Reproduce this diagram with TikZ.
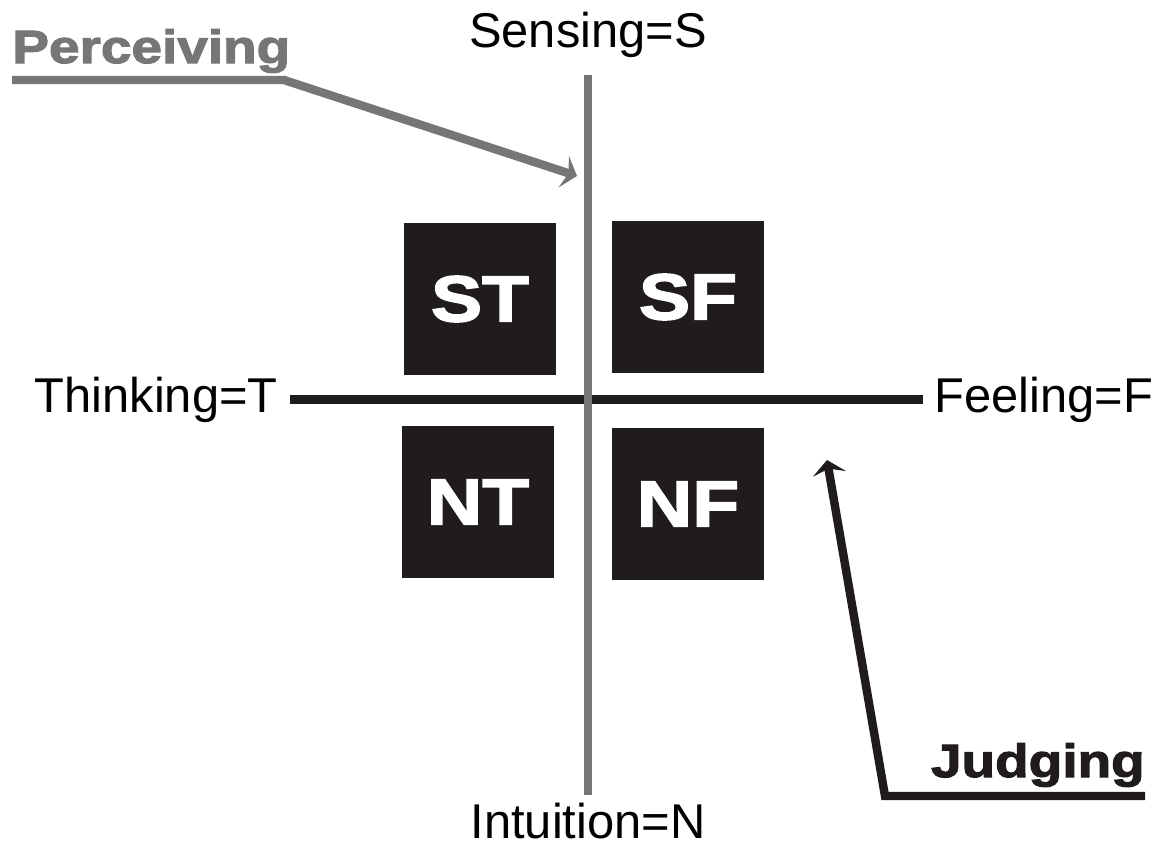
\documentclass[tikz,border=0pt]{standalone}
\usepackage{fontspec}
\setmainfont{Liberation Sans}
\newfontfamily\heavyfont{Liberation Sans}[FakeStretch=1.18, BoldFeatures={FakeBold=2.5}]
\usetikzlibrary{arrows.meta, positioning}

\definecolor{pgray}{RGB}{118,118,118}
\definecolor{ink}{RGB}{32,28,28}

\tikzset{
  axislabel/.style={inner sep=0pt, font=\fontsize{27.8}{30}\selectfont},
  typebox/.style={fill=ink, minimum size=3.06cm, inner sep=0pt, text=white,
    font=\heavyfont\bfseries\fontsize{37}{40}\selectfont},
  pointer/.style={inner sep=0pt, font=\heavyfont\bfseries\fontsize{26.5}{30}\selectfont},
  axis/.style={line width=5pt},
  bigarrow/.style={line width=4.8pt, -{Stealth[width=19pt,length=8pt,inset=3pt]}},
}

\begin{document}
\begin{tikzpicture}[x=0.02cm, y=-0.02cm]
  \useasboundingbox (0,0) rectangle (1159,849);

  % axis labels
  \node[axislabel, anchor=base] (sense) at (588,47) {Sensing=S};
  \node[axislabel, anchor=base] (intu) at (588,838) {Intuition=N};
  \node[axislabel, anchor=base east] (think) at (278,412) {Thinking=T};
  \node[axislabel, anchor=base west] (feel) at (934,412) {Feeling=F};

  % the four type squares
  \node[typebox] (st) at (480,299) {ST};
  \node[typebox] (sf) at (688,297) {SF};
  \node[typebox] (nt) at (478,502) {NT};
  \node[typebox] (nf) at (688,504) {NF};

  % the two axes, vertical one on top
  \draw[ink, axis] ([xshift=0.24cm]think.east) -- ([xshift=-0.22cm]feel.west);
  \draw[pgray, axis] ([yshift=-0.36cm]sense.south) -- ([yshift=0.14cm]intu.north);

  % Perceiving, pointing at the sensing axis
  \node[pointer, text=pgray, anchor=base west] (perc) at (12,63) {Perceiving};
  \coordinate (pbend) at (284,80);
  \coordinate (ptip) at (577,176);
  \draw[pgray, bigarrow] (perc.west |- pbend) -- (pbend) -- (ptip);

  % Judging, pointing at the feeling side
  \node[pointer, text=ink, anchor=base east] (judg) at (1145,777) {Judging};
  \coordinate (jbend) at (885,796);
  \coordinate (jtip) at (827,460);
  \draw[ink, bigarrow] (judg.east |- jbend) -- (jbend) -- (jtip);
\end{tikzpicture}
\end{document}
